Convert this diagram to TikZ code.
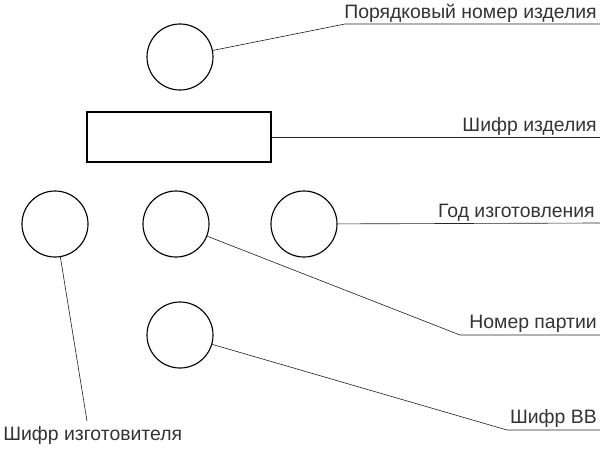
\documentclass[tikz,border=0pt]{standalone}
\usepackage{fontspec}
\setmainfont{Liberation Sans}
\usepackage{tikz}

\begin{document}
\begin{tikzpicture}[x=0.025cm, y=-0.025cm,
		circ_style/.style={circle,draw=black,line width=0.8pt,minimum size=1.65cm,inner sep=0pt},
		box_style/.style={rectangle,draw=black,line width=0.8pt,minimum width=4.6cm,minimum height=1.25cm,inner sep=0pt},
		leader_style/.style={draw=black!85,line width=0.45pt},
		label_style/.style={anchor=base east,inner sep=0pt,font=\fontsize{13.8}{14}\selectfont\color{black!80}}]

		\useasboundingbox (0,0) rectangle (600,450);

		\node[circ_style] (c0) at (180,57)  {};
		\node[box_style]  (b0) at (179,137) {};
		\node[circ_style] (c1) at (55,224)  {};
		\node[circ_style] (c2) at (176,224) {};
		\node[circ_style] (c3) at (304,224) {};
		\node[circ_style] (c4) at (180,335) {};

		\coordinate (k0) at (345,24);
		\coordinate (e0) at (600,24);
		\coordinate (e1) at (600,137);
		\coordinate (e3) at (600,223);
		\coordinate (k2) at (460,335);
		\coordinate (e2) at (600,335);
		\coordinate (k4) at (507,430);
		\coordinate (e4) at (600,430);
		\coordinate (k1) at (87,421);

		\draw[leader_style] (c0) -- (k0) -- (e0);
		\draw[leader_style] (b0) -- (e1);
		\draw[leader_style] (c3) -- (e3);
		\draw[leader_style] (c2) -- (k2) -- (e2);
		\draw[leader_style] (c4) -- (k4) -- (e4);
		\draw[leader_style] (c1) -- (k1);

		\node[label_style] (t0) at (597,18)  {Порядковый номер изделия};
		\node[label_style] (t1) at (597,131) {Шифр изделия};
		\node[label_style] (t3) at (595,217) {Год изготовления};
		\node[label_style] (t2) at (597,328) {Номер партии};
		\node[label_style] (t4) at (597,423) {Шифр ВВ};
		\node[label_style,anchor=base west] (t5) at (3,440) {Шифр изготовителя};

\end{tikzpicture}
\end{document}
